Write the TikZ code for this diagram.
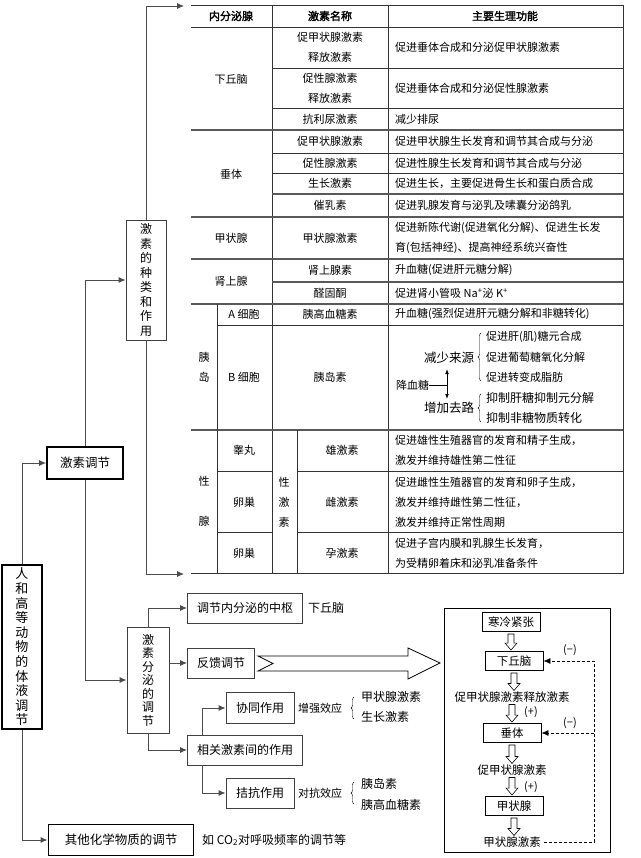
\documentclass[tikz,border=0pt]{standalone}
\usepackage{fontspec}
\setmainfont{Noto Sans CJK SC}[AutoFakeBold=2]
\usetikzlibrary{calc,arrows.meta,decorations.pathreplacing}
\tikzset{
  arr/.style={draw=black!70, line width=0.9pt, -{Latex[length=7pt,width=6pt]}},
  box/.style={draw=black!75, line width=0.9pt, inner sep=3pt, font=\fontsize{12}{14}\selectfont},
  bbox/.style={draw, line width=1.8pt, inner sep=3pt, font=\fontsize{12.5}{14}\selectfont},
  tl/.style={font=\fontsize{11}{13}\selectfont, inner sep=0pt},
  fn/.style={tl, anchor=west, align=left, font=\fontsize{11}{20}\selectfont},
  grp/.style={draw=black!65, line width=1.6pt},
  cell/.style={draw=black!80, line width=0.7pt},
  brc/.style={draw, decorate, decoration={brace, amplitude=3pt}},
  fbox/.style={draw, line width=0.9pt, minimum width=58pt, minimum height=19pt, inner sep=1pt, font=\fontsize{11.5}{13}\selectfont},
}
\newcommand\holdn[2]{\path let \p1=(#1.south), \p2=(#2.north) in
  [draw, fill=white, line width=0.6pt] (\x1-3pt,\y1-2pt) -- (\x1-3pt,\y2+8pt) -- (\x1-6pt,\y2+8pt)
  -- (\x1,\y2+1pt) -- (\x1+6pt,\y2+8pt) -- (\x1+3pt,\y2+8pt) -- (\x1+3pt,\y1-2pt) -- cycle;}
\begin{document}
\begin{tikzpicture}[x=1pt,y=-1pt]
\useasboundingbox (0,0) rectangle (640,858);
% tree on the left
\node[bbox, align=center, minimum width=40pt, minimum height=162pt, font=\fontsize{13}{14.6}\selectfont] (root) at (22,647)
  {人\\和\\高\\等\\动\\物\\的\\体\\液\\调\\节};
\node[bbox, minimum width=76pt, minimum height=32pt] (horm) at (85,463) {激素调节};
\node[box, align=center, minimum width=40pt, minimum height=120pt, font=\fontsize{12}{14.5}\selectfont] (kinds) at (146,280)
  {激\\素\\的\\种\\类\\和\\作\\用};
\node[box, align=center, minimum width=42pt, minimum height=106pt, font=\fontsize{12}{13.5}\selectfont] (secr) at (148,680)
  {激\\素\\分\\泌\\的\\调\\节};
\node[bbox, minimum width=145pt, minimum height=31pt] (other) at (121,840) {其他化学物质的调节};
\node[tl, anchor=west, font=\fontsize{12}{14}\selectfont] (co2) at (202,840) {如 CO\textsubscript{2}对呼吸频率的调节等};
\coordinate (tabtop) at (184,6);
\coordinate (tabbot) at (184,574);
\draw[arr] (root.north) |- (horm.west);
\draw[arr] (root.south) |- (other.west);
\draw[arr] (horm.north) |- (kinds.west);
\draw[arr] (horm.south) |- (secr.west);
\draw[arr] (kinds.north) |- (tabtop);
\draw[arr] (kinds.south) |- (tabbot);
% secretion regulation
\node[box, minimum width=115pt, minimum height=30pt] (center) at (245,608) {调节内分泌的中枢};
\node[tl, anchor=west, font=\fontsize{12}{14}\selectfont] (cname) at (308,608) {下丘脑};
\node[box, minimum width=67pt, minimum height=30pt] (fb) at (221,663) {反馈调节};
\node[box, minimum width=115pt, minimum height=30pt] (rel) at (245,750) {相关激素间的作用};
\node[box, minimum width=68pt, minimum height=31pt] (syn) at (260,708) {协同作用};
\node[box, minimum width=68pt, minimum height=30pt] (ant) at (260,793) {拮抗作用};
\draw[arr] (secr.north) |- (center.west);
\draw[arr] (secr.east |- fb.west) -- (fb.west);
\draw[arr] (secr.south) |- (rel.west);
\draw[arr] ($(rel.north west)+(15,0)$) |- (syn.west);
\draw[arr] ($(rel.south west)+(15,0)$) |- (ant.west);
\node[tl, anchor=west] (enh) at (298,708) {增强效应};
\draw[brc] (354,719) -- (354,697);
\node[tl, anchor=west, font=\fontsize{12}{14}\selectfont] (s1) at (361,697) {甲状腺激素};
\node[tl, anchor=west, font=\fontsize{12}{14}\selectfont] (s2) at (361,717) {生长激素};
\node[tl, anchor=west] (opp) at (298,793) {对抗效应};
\draw[brc] (354,804) -- (354,782);
\node[tl, anchor=west, font=\fontsize{12}{14}\selectfont] (a1) at (361,784) {胰岛素};
\node[tl, anchor=west, font=\fontsize{12}{14}\selectfont] (a2) at (361,805) {胰高血糖素};
% big hollow arrow
\draw[line width=0.8pt, fill=white] (258,656) -- (408,656) -- (408,648) -- (440,663) -- (408,679)
  -- (408,671) -- (258,671) -- (273,663.5) -- cycle;
% feedback panel
\draw[line width=0.8pt] (444,608) rectangle (610,852);
\node[fbox] (cold) at (511,622) {寒冷紧张};
\node[fbox] (hyp) at (514,661) {下丘脑};
\node[tl, font=\fontsize{11.5}{13}\selectfont] (trh) at (512,697) {促甲状腺激素释放激素};
\node[fbox] (pit) at (512,733) {垂体};
\node[tl, font=\fontsize{11.5}{13}\selectfont] (tsh) at (512,770) {促甲状腺激素};
\node[fbox] (thy) at (514,806) {甲状腺};
\node[tl, font=\fontsize{11.5}{13}\selectfont] (t4) at (512,842) {甲状腺激素};
\holdn{cold}{hyp}
\holdn{hyp}{trh}
\holdn{trh}{pit}
\holdn{pit}{tsh}
\holdn{tsh}{thy}
\holdn{thy}{t4}
\node[tl] (p1) at (531,712) {(+)};
\node[tl] (p2) at (531,787) {(+)};
\node[tl] (m1) at (570,650) {(−)};
\node[tl] (m2) at (570,723) {(−)};
\coordinate (fbt) at (594,661);
\draw[densely dashed, line width=0.7pt, -{Latex[length=7pt,width=6pt]}] ([xshift=3pt]t4.east) -| (fbt) -- (hyp.east);
\draw[densely dashed, line width=0.7pt, -{Latex[length=7pt,width=6pt]}] (fbt |- pit.east) -- (pit.east);
% table lines
\draw[cell] (191,5) -- (623,5) -- (623,573) -- (191,573);
\draw[cell] (191,27) -- (623,27);
\draw[cell] (272,5) -- (272,573);
\draw[cell] (388,5) -- (388,573);
\foreach \y in {130,217,259,304,430} \draw[grp] (191,\y) -- (623,\y);
\foreach \y in {194,282} \draw[grp] (272,\y) -- (623,\y);
\foreach \y in {68,108,153,173} \draw[cell] (272,\y) -- (623,\y);
\draw[cell] (217,304) -- (217,573);
\draw[cell] (217,325) -- (623,325);
\draw[cell] (297,430) -- (297,573);
\foreach \y in {471,532} {\draw[cell] (217,\y) -- (272,\y); \draw[cell] (297,\y) -- (623,\y);}
% table header
\node[tl] (h1) at (231,16) {\textbf{内分泌腺}};
\node[tl] (h2) at (330,16) {\textbf{激素名称}};
\node[tl] (h3) at (505,16) {\textbf{主要生理功能}};
% glands
\node[tl] (g1) at (231,79) {下丘脑};
\node[tl] (g2) at (231,174) {垂体};
\node[tl] (g3) at (231,238) {甲状腺};
\node[tl] (g4) at (231,281) {肾上腺};
\node[tl, align=center, font=\fontsize{11}{20}\selectfont] (g5) at (204,367) {胰\\岛};
\node[tl] (g5a) at (244,314) {A 细胞};
\node[tl] (g5b) at (244,377) {B 细胞};
\node[tl, align=center, font=\fontsize{11}{40}\selectfont] (g6) at (204,501) {性\\腺};
\node[tl] (g6a) at (244,450) {睾丸};
\node[tl] (g6b) at (244,502) {卵巢};
\node[tl] (g6c) at (244,553) {卵巢};
\node[tl, align=center, font=\fontsize{11}{20}\selectfont] (sex) at (284,502) {性\\激\\素};
% hormones
\node[tl, align=center, font=\fontsize{11}{20}\selectfont] (r1) at (330,47) {促甲状腺激素\\释放激素};
\node[tl, align=center, font=\fontsize{11}{20}\selectfont] (r2) at (330,88) {促性腺激素\\释放激素};
\node[tl] (r3) at (330,119) {抗利尿激素};
\node[tl] (r4) at (330,141) {促甲状腺激素};
\node[tl] (r5) at (330,163) {促性腺激素};
\node[tl] (r6) at (330,183) {生长激素};
\node[tl] (r7) at (330,205) {催乳素};
\node[tl] (r8) at (330,238) {甲状腺激素};
\node[tl] (r9) at (330,270) {肾上腺素};
\node[tl] (r10) at (330,293) {醛固酮};
\node[tl] (r11) at (330,314) {胰高血糖素};
\node[tl] (r12) at (330,377) {胰岛素};
\node[tl] (r13) at (342,450) {雄激素};
\node[tl] (r14) at (342,502) {雌激素};
\node[tl] (r15) at (342,553) {孕激素};
% functions
\node[fn] (f1) at (395,47) {促进垂体合成和分泌促甲状腺激素};
\node[fn] (f2) at (395,88) {促进垂体合成和分泌促性腺激素};
\node[fn] (f3) at (395,119) {减少排尿};
\node[fn] (f4) at (395,141) {促进甲状腺生长发育和调节其合成与分泌};
\node[fn] (f5) at (395,163) {促进性腺生长发育和调节其合成与分泌};
\node[fn] (f6) at (395,183) {促进生长，主要促进骨生长和蛋白质合成};
\node[fn] (f7) at (395,205) {促进乳腺发育与泌乳及嗉囊分泌鸽乳};
\node[fn] (f8) at (395,238) {促进新陈代谢(促进氧化分解)、促进生长发\\育(包括神经)、提高神经系统兴奋性};
\node[fn] (f9) at (395,270) {升血糖(促进肝元糖分解)};
\node[fn] (f10) at (395,293) {促进肾小管吸 Na\textsuperscript{+}泌 K\textsuperscript{+}};
\node[fn] (f11) at (395,314) {升血糖(强烈促进肝元糖分解和非糖转化)};
\node[fn] (f13) at (395,450) {促进雄性生殖器官的发育和精子生成，\\激发并维持雄性第二性征};
\node[fn] (f14) at (395,502) {促进雌性生殖器官的发育和卵子生成，\\激发并维持雌性第二性征，\\激发并维持正常性周期};
\node[fn] (f15) at (395,553) {促进子宫内膜和乳腺生长发育，\\为受精卵着床和泌乳准备条件};
% insulin cell
\node[tl, anchor=west] (low) at (396,385) {降血糖};
\node[tl, anchor=west, font=\fontsize{12.5}{14}\selectfont] (src) at (424,358) {减少来源};
\node[tl, anchor=west, font=\fontsize{12.5}{14}\selectfont] (out) at (424,408) {增加去路};
\coordinate (ud) at (447,385);
\draw[line width=0.8pt, {Latex[length=5pt]}-{Latex[length=5pt]}] (447,369) -- (447,399);
\draw[line width=0.8pt] (low.east) -- (ud);
\draw[brc] (481,381) -- (481,333);
\draw[brc] (481,422) -- (481,394);
\node[fn] (i1) at (486,337) {促进肝(肌)糖元合成};
\node[fn] (i2) at (486,357) {促进葡萄糖氧化分解};
\node[fn] (i3) at (486,377) {促进转变成脂肪};
\node[fn, font=\fontsize{12}{14}\selectfont] (i4) at (486,398) {抑制肝糖抑制元分解};
\node[fn, font=\fontsize{12}{14}\selectfont] (i5) at (486,418) {抑制非糖物质转化};
\end{tikzpicture}
\end{document}
